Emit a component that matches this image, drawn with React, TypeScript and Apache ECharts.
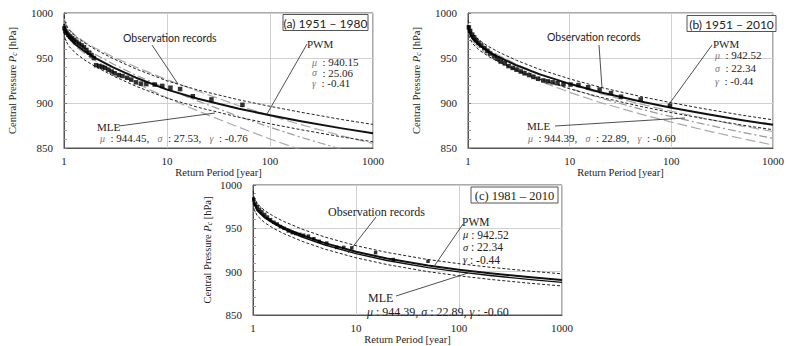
import React, { useEffect, useRef } from 'react';
import * as echarts from 'echarts';

// Return periods (years) at which the fitted curves are read
const RP = [1.005, 1.02, 1.1, 1.3, 1.6, 2, 3, 5, 10, 20, 50, 100, 200, 500, 1000];
const X_TICKS = ['1', '10', '100', '1000'];
const Y_TICKS = [850, 900, 950, 1000];

// (a) 1951 – 1980
const pwmA = [988, 981.6, 973.4, 964.7, 957, 950.2, 939.6, 928.1, 914.9, 904.7, 893.6, 886.4, 879.8, 871.8, 866.4];
const pwmUpA = [997, 990.6, 982.4, 973.7, 966.5, 959.7, 949.3, 937.8, 924.6, 914.4, 903.5, 896.3, 889.7, 881.6, 876.2];
const pwmLoA = [978.5, 972, 963.9, 955.2, 947.5, 940.7, 930.1, 918.6, 905.4, 895.2, 884.1, 876.9, 870.3, 862.3, 856.9];
const mleA = [992, 985.6, 977.4, 968.7, 961, 954.2, 943.3, 930.9, 915.9, 902.1, 885, 873, 861.9, 848.4, 839.1];
const mleUpA = [996, 989.6, 982.4, 974.7, 967.5, 961.2, 951.3, 939.9, 925.9, 913.1, 897, 886, 875.9, 863.4, 855.1];
const mleLoA = [988, 981.6, 972.4, 962.7, 954.5, 947.2, 935.3, 921.9, 905.9, 891.1, 873, 860, 847.9, 833.4, 823.1];
const obsPeriodA = [1.01, 1.03, 1.06, 1.1, 1.15, 1.2, 1.26, 1.32, 1.4, 1.48, 1.56, 1.65, 1.75, 1.85, 1.95, 2.05, 2.2, 2.35, 2.5, 2.7, 2.9, 3.1, 3.4, 3.7, 4.1, 4.5, 5.0, 5.6, 6.3, 7.6, 9, 10.8, 13.4, 17.8, 27, 54];
const obsPressureA = [983, 980, 978, 976, 974, 972, 970, 968, 966, 964, 962, 959, 956, 953, 950, 942, 941, 940, 939, 937, 935, 933, 931, 930, 928, 926, 923, 921.5, 921, 920.5, 919, 917, 915.5, 907.5, 904, 898];

// (b) 1951 – 2010
const pwmB = [986.5, 980.1, 971.9, 963.9, 957.1, 951.1, 941.9, 932.1, 921.3, 912, 901.7, 894.8, 888.5, 880.9, 875.8];
const pwmUpB = [992, 985.6, 977.4, 969.4, 962.6, 956.6, 947.4, 937.6, 926.8, 917.5, 907.2, 900.3, 894, 886.4, 881.3];
const pwmLoB = [981, 974.6, 966.4, 958.4, 951.6, 945.6, 936.4, 926.6, 915.8, 906.5, 896.2, 889.3, 883, 875.4, 870.3];
const mleB = [986.5, 980.1, 971.9, 963.4, 956.1, 949.6, 939.4, 928.6, 916.3, 905.5, 893.2, 884.8, 877, 867.4, 860.8];
const mleUpB = [988.5, 982.1, 974.4, 966.4, 959.1, 953.1, 942.9, 932.6, 920.8, 910.5, 898.7, 890.8, 883.5, 874.4, 868.3];
const mleLoB = [984.5, 978.1, 969.4, 960.4, 953.1, 946.1, 935.9, 924.6, 911.8, 900.5, 887.7, 878.8, 870.5, 860.4, 853.3];
const obsPeriodB = [1.02, 1.05, 1.1, 1.15, 1.2, 1.27, 1.35, 1.45, 1.55, 1.65, 1.8, 1.95, 2.1, 2.3, 2.5, 2.75, 3.0, 3.3, 3.6, 4.0, 4.4, 4.9, 5.5, 6.1, 6.8, 7.6, 8.7, 10.2, 12.2, 15.2, 19.7, 25.5, 32, 50, 97];
const obsPressureB = [984, 980, 976, 973, 970, 967, 964, 961, 958, 955, 952, 949, 946, 944, 941, 939, 937, 935, 933, 931, 929, 927, 925, 924, 923, 922, 921, 920.5, 920, 917.5, 915, 911, 907, 904, 897];

// (c) 1981 – 2010
const pwmC = [986, 979.6, 971.4, 963.4, 956.6, 950.8, 942, 932.9, 923, 915.2, 907, 902.2, 898.1, 893.5, 890.5];
const mleC = [985, 978.6, 970.2, 962, 955, 949, 940, 930.8, 920.8, 912.9, 904.6, 899.7, 895.5, 890.8, 887.7];
const pwmUpC = [993, 986.6, 978.4, 970.4, 963.6, 957.8, 949, 939.9, 930, 922.2, 914, 909.2, 905.1, 900.5, 897.5];
const pwmLoC = [979, 972.6, 964.4, 956.4, 949.6, 943.8, 935, 925.9, 916, 908.2, 900, 895.2, 891.1, 886.5, 883.5];
const obsPeriodC = [1.02, 1.06, 1.1, 1.16, 1.22, 1.3, 1.38, 1.48, 1.6, 1.72, 1.85, 2.0, 2.2, 2.4, 2.6, 2.85, 3.1, 3.45, 3.9, 4.4, 5.2, 6.5, 7.6, 9.1, 15.5, 23, 50];
const obsPressureC = [983, 978, 975, 972, 969, 966, 963, 960, 957, 955, 952, 950, 947, 945, 944, 943, 942, 941, 938, 935, 933, 928, 928, 927.4, 922, 914, 912];

const SERIF = '"Liberation Serif", "DejaVu Serif", serif';
const SANS = 'Lato, "Liberation Sans", sans-serif';

const GRIDS = [
  { left: 64, top: 13, width: 309, height: 135 },
  { left: 468, top: 13, width: 310, height: 135 },
  { left: 253, top: 185, width: 309, height: 139 },
];

function curve(values: number[], gi: number, style: any, z = 3) {
  return {
    type: 'line',
    xAxisIndex: gi,
    yAxisIndex: gi,
    data: RP.map((t, i) => [t, values[i]]),
    showSymbol: false,
    symbol: 'none',
    smooth: false,
    lineStyle: { ...style, join: 'round' },
    z,
    silent: true,
  };
}

function obs(periods: number[], pressures: number[], gi: number, size = 4) {
  return {
    type: 'scatter',
    xAxisIndex: gi,
    yAxisIndex: gi,
    data: periods.map((t, i) => [t, pressures[i]]),
    symbol: 'rect',
    symbolSize: size,
    itemStyle: { color: '#000' },
    z: 5,
    silent: true,
  };
}

const dotted = { color: '#222', width: 1, type: [3, 2] };
const solid = { color: '#111', width: 2 };
const dashDot = { color: '#999', width: 1.2, type: [8, 3, 2, 3] };
const longDash = { color: '#aaa', width: 1.2, type: [10, 4] };

function textEl(x: number, y: number, text: string, font: string, size: number, extra: any = {}) {
  return {
    type: 'text',
    x,
    y,
    z: 10,
    style: { text, fontFamily: font, fontSize: size, fill: '#222', verticalAlign: 'middle', align: 'left', ...extra },
  };
}
function lineEl(x1: number, y1: number, x2: number, y2: number) {
  return { type: 'line', z: 10, shape: { x1, y1, x2, y2 }, style: { stroke: '#222', lineWidth: 0.8 } };
}
function boxEl(x: number, y: number, w: number, h: number, text: string, font: string, size: number) {
  return [
    { type: 'rect', z: 9, shape: { x, y, width: w, height: h }, style: { fill: '#fff', stroke: '#555', lineWidth: 1 } },
    textEl(x + w / 2, y + h / 2 + 0.5, text, font, size, { align: 'center' }),
  ];
}
function paramEl(x: number, y: number, greek: string, val: string, size: number, greekColor = '#777') {
  return textEl(x, y, `{g|${greek}}{v|${val}}`, SERIF, size, {
    rich: {
      g: { fontFamily: SERIF, fontStyle: 'italic', fontSize: size - 1, fill: greekColor, lineHeight: size },
      v: { fontFamily: SERIF, fontSize: size, fill: '#222', lineHeight: size },
    },
  });
}

export default function App() {
  const ref = useRef<HTMLDivElement>(null);
  useEffect(() => {
    if (!ref.current) return;
    const chart = echarts.init(ref.current, undefined, { renderer: 'svg' });
    const yName = '{a|Central Pressure }{p|P}{s|c}{a| [hPa]}';
    const yRich = {
      a: { fontFamily: SERIF, fontSize: 10.5, color: '#222' },
      p: { fontFamily: SERIF, fontSize: 10.5, fontStyle: 'italic', color: '#222' },
      s: { fontFamily: SERIF, fontSize: 7.5, fontStyle: 'italic', color: '#222', verticalAlign: 'bottom', padding: [4, 0, 0, 0] },
    };
    const yGaps = [46, 46, 40];
    const xGaps = [17, 17, 19];
    const xAxes = GRIDS.map((_, i) => ({
      gridIndex: i,
      type: 'log',
      logBase: 10,
      min: 1,
      max: 1000,
      axisLine: { show: true, lineStyle: { color: '#555' } },
      axisTick: { show: false },
      axisLabel: {
        fontFamily: SERIF, fontSize: 11, color: '#222', margin: 7,
        formatter: (v: number) => X_TICKS[Math.round(Math.log10(v))] ?? '',
      },
      splitLine: { show: true, lineStyle: { color: '#d0d0d0' } },
      name: 'Return Period [year]',
      nameLocation: 'middle',
      nameGap: xGaps[i],
      nameTextStyle: { fontFamily: SERIF, fontSize: 10.5, color: '#222', verticalAlign: 'top' },
    }));
    const yAxes = GRIDS.map((_, i) => ({
      gridIndex: i,
      type: 'value',
      min: Y_TICKS[0],
      max: Y_TICKS[Y_TICKS.length - 1],
      interval: 50,
      axisLine: { show: true, lineStyle: { color: '#555' } },
      axisTick: { show: true, inside: true, length: 3, lineStyle: { color: '#777' } },
      minorTick: { show: true, splitNumber: 5, length: 3, lineStyle: { color: '#999' } },
      axisLabel: { fontFamily: SERIF, fontSize: 11, color: '#222', margin: 11, formatter: (v: number) => String(v) },
      splitLine: { show: true, lineStyle: { color: '#d0d0d0' } },
      name: yName,
      nameLocation: 'middle',
      nameRotate: 90,
      nameGap: yGaps[i],
      nameTextStyle: { rich: yRich },
    }));

    const series: any[] = [
      // (a)
      curve(mleLoA, 0, longDash, 2),
      curve(mleUpA, 0, longDash, 2),
      curve(mleA, 0, dashDot, 2),
      curve(pwmUpA, 0, dotted),
      curve(pwmLoA, 0, dotted),
      curve(pwmA, 0, solid, 4),
      obs(obsPeriodA, obsPressureA, 0, 4.5),
      // (b)
      curve(mleLoB, 1, longDash, 2),
      curve(mleUpB, 1, longDash, 2),
      curve(mleB, 1, dashDot, 2),
      curve(pwmUpB, 1, dotted),
      curve(pwmLoB, 1, dotted),
      curve(pwmB, 1, solid, 4),
      obs(obsPeriodB, obsPressureB, 1, 4.5),
      // (c)
      curve(pwmUpC, 2, dotted),
      curve(pwmLoC, 2, dotted),
      curve(mleC, 2, { color: '#111', width: 1.4 }, 4),
      curve(pwmC, 2, solid, 4),
      obs(obsPeriodC, obsPressureC, 2, 3.5),
    ];

    const graphic: any[] = [
      // (a)
      ...boxEl(283, 14.5, 85, 16, '(a) 1951 – 1980', SANS, 12),
      textEl(123, 38, 'Observation records', SANS, 10.5),
      lineEl(152, 45, 178, 84),
      textEl(307, 44, 'PWM', SERIF, 11),
      lineEl(307, 44, 267, 114),
      paramEl(312, 62, 'μ', '  : 940.15', 11),
      paramEl(312, 72.5, 'σ', '  : 25.06', 11),
      paramEl(312, 83, 'γ', '  : -0.41', 11),
      textEl(97, 127, 'MLE', SERIF, 11),
      lineEl(119, 126, 215, 113),
      textEl(100, 138, '{g|μ}{v|  : 944.45,   }{g|σ}{v|  : 27.53,   }{g|γ}{v|  : -0.76}', SERIF, 11, {
        rich: {
          g: { fontFamily: SERIF, fontStyle: 'italic', fontSize: 10, fill: '#777' },
          v: { fontFamily: SERIF, fontSize: 11, fill: '#222' },
        },
      }),
      // (b)
      ...boxEl(687, 15.5, 89, 16, '(b) 1951 – 2010', SANS, 12),
      textEl(547, 37, 'Observation records', SANS, 10.5),
      lineEl(599, 45, 602, 88),
      textEl(713, 44, 'PWM', SERIF, 11),
      lineEl(712, 45, 667, 107),
      paramEl(715, 55, 'μ', '  : 942.52', 11),
      paramEl(715, 68, 'σ', '  : 22.34', 11),
      paramEl(715, 81, 'γ', '  : -0.44', 11),
      textEl(527, 126, 'MLE', SERIF, 11),
      lineEl(555, 126, 685, 118),
      textEl(528, 138, '{g|μ}{v|  : 944.39,   }{g|σ}{v|  : 22.89,   }{g|γ}{v|  : -0.60}', SERIF, 11, {
        rich: {
          g: { fontFamily: SERIF, fontStyle: 'italic', fontSize: 10, fill: '#777' },
          v: { fontFamily: SERIF, fontSize: 11, fill: '#222' },
        },
      }),
      // (c)
      ...boxEl(471, 187, 87, 16, '(c) 1981 – 2010', SERIF, 12.5),
      textEl(328, 212, 'Observation records', SERIF, 12),
      lineEl(376, 217, 348, 253),
      textEl(462, 222, 'PWM', SERIF, 11.5, { lineHeight: 11.5 }),
      lineEl(463, 224, 435, 265),
      paramEl(463, 234.5, 'μ', ' : 942.52', 11.5, '#222'),
      paramEl(463, 247, 'σ', ' : 22.34', 11.5, '#222'),
      paramEl(463, 259.5, 'γ', ' : -0.44', 11.5, '#222'),
      textEl(368, 298, 'MLE', SERIF, 12),
      lineEl(396, 296, 468, 273),
      textEl(367, 312, '{g|μ}{v| : 944.39, }{g|σ}{v| : 22.89, }{g|γ}{v| : -0.60}', SERIF, 12, {
        rich: {
          g: { fontFamily: SERIF, fontStyle: 'italic', fontSize: 12, fill: '#222' },
          v: { fontFamily: SERIF, fontSize: 12, fill: '#222' },
        },
      }),
    ];

    chart.setOption({
      animation: false,
      backgroundColor: '#fff',
      grid: GRIDS.map((g) => ({ ...g, show: true, borderColor: '#555', borderWidth: 1, backgroundColor: 'transparent' })),
      xAxis: xAxes,
      yAxis: yAxes,
      series,
      graphic,
    });
    return () => chart.dispose();
  }, []);
  return <div ref={ref} style={{ position: 'fixed', left: 0, top: 0, width: 787, height: 346 }} />;
}
